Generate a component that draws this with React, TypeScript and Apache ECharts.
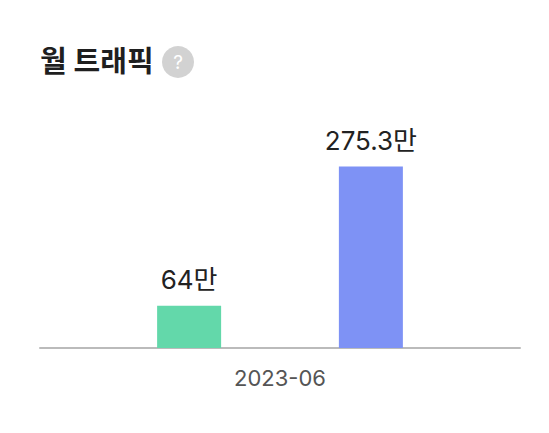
import React, { useEffect, useRef } from "react";
import * as echarts from "echarts";

const categories = ["2023-06"];
const seriesA = [64];
const seriesB = [275.3];
const labelsA = ["64만"];
const labelsB = ["275.3만"];
const FONT = "Inter, 'Noto Sans CJK KR', sans-serif";

export default function App() {
  const ref = useRef<HTMLDivElement>(null);
  useEffect(() => {
    const chart = echarts.init(ref.current!, undefined, { renderer: "svg" });
    chart.setOption({
      animation: false,
      backgroundColor: "#fff",
      title: {
        text: "월 트래픽",
        left: 40,
        top: 47,
        padding: 0,
        textStyle: { fontFamily: FONT, fontSize: 29, fontWeight: 700, color: "#1f1f1f" },
      },
      graphic: [
        { type: "circle", shape: { cx: 178, cy: 62, r: 16 }, style: { fill: "#d2d2d2" } },
        {
          type: "text",
          x: 178,
          y: 62,
          style: { text: "?", fill: "#fff", fontSize: 19, fontFamily: FONT, align: "center", verticalAlign: "middle" },
        },
      ],
      grid: { left: 40, right: 29, top: 100, bottom: 85 },
      xAxis: {
        type: "category",
        data: categories,
        axisTick: { show: false },
        axisLine: { lineStyle: { color: "#bbbbbb", width: 2 } },
        axisLabel: { color: "#555", fontSize: 22, fontFamily: FONT, margin: 19 },
      },
      yAxis: { type: "value", min: 0, max: 376, show: false },
      series: [
        {
          type: "bar",
          data: seriesA,
          barWidth: 64,
          barGap: "184%",
          itemStyle: { color: "#63d8aa" },
          label: { show: true, position: "top", distance: 13, formatter: () => labelsA[0], fontSize: 26, color: "#222", fontFamily: FONT },
        },
        {
          type: "bar",
          data: seriesB,
          barWidth: 64,
          itemStyle: { color: "#7e92f5" },
          label: { show: true, position: "top", distance: 13, formatter: () => labelsB[0], fontSize: 26, color: "#222", fontFamily: FONT },
        },
      ],
    });
    return () => chart.dispose();
  }, []);
  return <div ref={ref} style={{ position: "fixed", left: 0, top: 0, width: 549, height: 433 }} />;
}
